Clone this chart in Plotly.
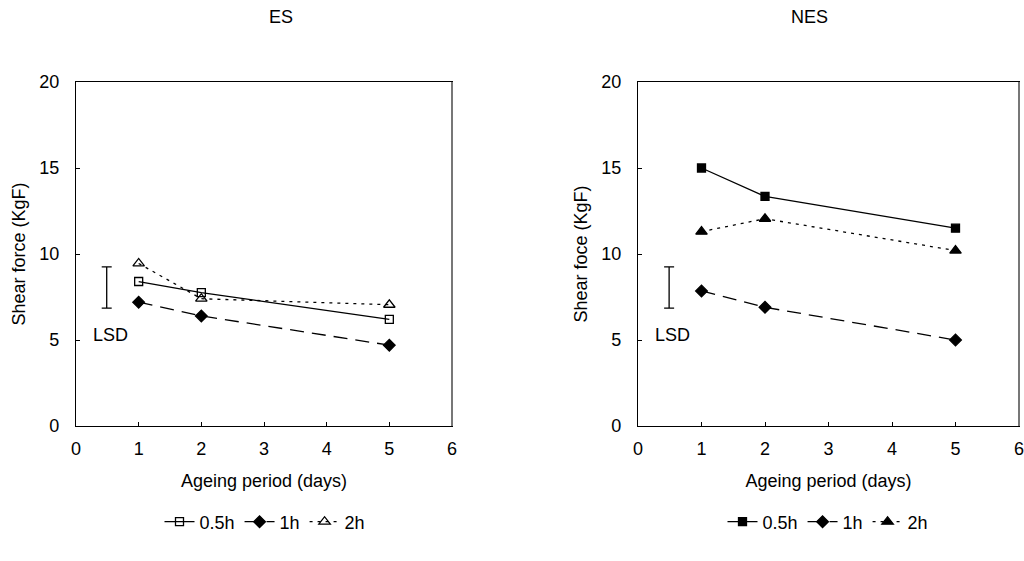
import plotly.graph_objects as go

# Ageing period (days)
days = [1, 2, 5]

# Shear force (KgF), ES carcasses
es_05h = [8.4, 7.75, 6.2]
es_1h = [7.2, 6.4, 4.7]
es_2h = [9.45, 7.4, 7.05]

# Shear force (KgF), NES carcasses
nes_05h = [15.0, 13.35, 11.5]
nes_1h = [7.85, 6.9, 5.0]
nes_2h = [11.3, 12.05, 10.2]

# Least significant difference bar (low, high)
lsd_x = 0.49
lsd_range = [6.85, 9.25]

series = ["0.5h", "1h", "2h"]
dashes = ["solid", "14px,8px", "3px,5px"]

FONT = "Liberation Sans, Arial, sans-serif"
FS = 18
fig = go.Figure()

def add_panel(vals, xa, ya, legend, filled):
    syms = ["square", "diamond", "triangle-up"]
    if not filled:
        syms = ["square-open", "diamond", "triangle-up-open"]
    sizes = [8, 9, 10]
    for name, v, dash, sym, sz in zip(series, vals, dashes, syms, sizes):
        fig.add_trace(go.Scatter(
            x=days, y=v, name=name, mode="lines+markers",
            line=dict(color="black", width=1.3, dash=dash),
            marker=dict(symbol=sym, size=sz, color="black",
                        line=dict(color="black", width=1.3)),
            xaxis=xa, yaxis=ya, legend=legend, showlegend=True))
    mid = (lsd_range[0] + lsd_range[1]) / 2
    half = (lsd_range[1] - lsd_range[0]) / 2
    fig.add_trace(go.Scatter(
        x=[lsd_x], y=[mid], mode="markers",
        marker=dict(size=1, color="rgba(0,0,0,0)"),
        error_y=dict(type="data", array=[half], color="black",
                     thickness=1.3, width=5),
        xaxis=xa, yaxis=ya, showlegend=False, hoverinfo="skip"))

add_panel([es_05h, es_1h, es_2h], "x", "y", "legend", False)
add_panel([nes_05h, nes_1h, nes_2h], "x2", "y2", "legend2", True)

ydom = [(561 - 426) / 561, (561 - 82) / 561]
axis_common = dict(
    showline=True, linecolor="black", linewidth=1.3, mirror=True,
    ticks="inside", ticklen=4, tickcolor="black", showgrid=False,
    zeroline=False, tickfont=dict(family=FONT, size=FS, color="black"),
    automargin=False, ticklabeloverflow="allow",
)
xcommon = dict(axis_common, range=[0, 6], dtick=1, ticklabelstandoff=6,
               title=dict(text="Ageing period (days)", standoff=16,
                          font=dict(family=FONT, size=FS, color="black")))
ycommon = dict(axis_common, range=[0, 20], dtick=5, domain=ydom,
               ticklabelstandoff=12)

fig.update_layout(
    width=1024, height=561,
    margin=dict(l=0, r=0, t=0, b=0),
    paper_bgcolor="white", plot_bgcolor="white",
    font=dict(family=FONT, size=FS, color="black"),
    xaxis=dict(xcommon, domain=[76 / 1024, 452 / 1024], anchor="y"),
    yaxis=dict(ycommon, anchor="x",
               title=dict(text="Shear force (KgF)", standoff=8,
                          font=dict(family=FONT, size=FS, color="black"))),
    xaxis2=dict(xcommon, domain=[638 / 1024, 1019 / 1024], anchor="y2"),
    yaxis2=dict(ycommon, anchor="x2",
                title=dict(text="Shear foce (KgF)", standoff=8,
                           font=dict(family=FONT, size=FS, color="black"))),
    legend=dict(orientation="h", x=265 / 1024, xanchor="center",
                y=(561 - 522) / 561, yanchor="middle",
                font=dict(family=FONT, size=FS), itemwidth=30,
                tracegroupgap=0, bgcolor="rgba(0,0,0,0)"),
    legend2=dict(orientation="h", x=828 / 1024, xanchor="center",
                 y=(561 - 522) / 561, yanchor="middle",
                 font=dict(family=FONT, size=FS), itemwidth=30,
                 tracegroupgap=0, bgcolor="rgba(0,0,0,0)"),
    annotations=[
        dict(text="ES", x=267 / 1024, y=(561 - 17) / 561, xref="paper",
             yref="paper", yanchor="middle", showarrow=False,
             font=dict(family=FONT, size=FS)),
        dict(text="NES", x=830 / 1024, y=(561 - 17) / 561, xref="paper",
             yref="paper", yanchor="middle", showarrow=False,
             font=dict(family=FONT, size=FS)),
        dict(text="LSD", x=0.55, y=5.3, xref="x", yref="y", showarrow=False,
             font=dict(family=FONT, size=FS)),
        dict(text="LSD", x=0.55, y=5.3, xref="x2", yref="y2", showarrow=False,
             font=dict(family=FONT, size=FS)),
    ],
    shapes=[
        # right-hand frame edges drawn in grey
        dict(type="line", xref="x domain", yref="y domain", x0=1, x1=1,
             y0=0, y1=1, line=dict(color="#777777", width=2)),
        dict(type="line", xref="x2 domain", yref="y2 domain", x0=1, x1=1,
             y0=0, y1=1, line=dict(color="#777777", width=2)),
    ],
)

fig.write_html("out.html")
